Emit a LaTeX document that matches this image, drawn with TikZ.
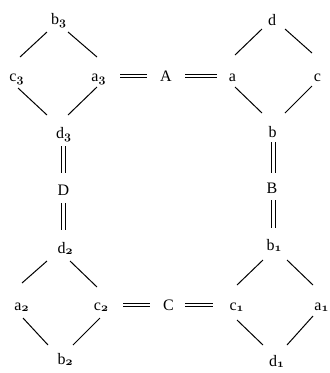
\documentclass[tikz,border=0pt]{standalone}
\usepackage{fontspec}
\setmainfont{Liberation Serif}
\begin{document}
\begin{tikzpicture}[x=1pt,y=-1pt,
  lbl/.style={inner sep=0pt, anchor=base, text height=12pt, text depth=2pt,
    font=\fontsize{16}{18}\selectfont},
  edge/.style={line width=1pt},
  eq/.style={double, double distance=2.3pt, line width=0.9pt}]
\newcommand{\sbx}[1]{\raisebox{-1.6pt}{\fontsize{12}{12}\usefont{OML}{cmm}{b}{it}#1}}
\useasboundingbox (0,0) rectangle (330,373);
% top-left diamond
\node[lbl] (b3) at (58.5,24) {b\sbx{3}};
\node[lbl] (c3) at (16.5,81) {c\sbx{3}};
\node[lbl] (a3) at (98.5,81) {a\sbx{3}};
\node[lbl] (d3) at (63.5,138) {d\sbx{3}};
% top-right diamond
\node[lbl] (d) at (272,25) {d};
\node[lbl] (a) at (232.5,81) {a};
\node[lbl] (c) at (317.5,81) {c};
\node[lbl] (b) at (272.5,137) {b};
% bottom-left diamond
\node[lbl] (d2) at (65,253) {d\sbx{2}};
\node[lbl] (a2) at (21.5,310) {a\sbx{2}};
\node[lbl] (c2) at (101,310) {c\sbx{2}};
\node[lbl] (b2) at (65,364) {b\sbx{2}};
% bottom-right diamond
\node[lbl] (b1) at (274,250) {b\sbx{1}};
\node[lbl] (c1) at (236.5,310) {c\sbx{1}};
\node[lbl] (a1) at (321.5,310) {a\sbx{1}};
\node[lbl] (d1) at (276.5,366) {d\sbx{1}};
% middle labels
\node[lbl] (A) at (166,81) {A};
\node[lbl] (C) at (168.5,310) {C};
\node[lbl] (D) at (63.5,195) {D};
\node[lbl] (B) at (272,193) {B};
% diamond edges TL
\draw[edge] ([shift={(-11.5pt,-8pt)}]b3.base) -- ([shift={(3.5pt,24pt)}]c3.base);
\draw[edge] ([shift={(9.5pt,-8pt)}]b3.base) -- ([shift={(-1.5pt,24pt)}]a3.base);
\draw[edge] ([shift={(1.5pt,-7pt)}]c3.base) -- ([shift={(-16.5pt,23pt)}]d3.base);
\draw[edge] ([shift={(-1.5pt,-6pt)}]a3.base) -- ([shift={(4.5pt,23pt)}]d3.base);
% TR
\draw[edge] ([shift={(-10pt,-4pt)}]d.base) -- ([shift={(2.5pt,26pt)}]a.base);
\draw[edge] ([shift={(13pt,-4pt)}]d.base) -- ([shift={(-5.5pt,28pt)}]c.base);
\draw[edge] ([shift={(2.5pt,-6pt)}]a.base) -- ([shift={(-10.5pt,24pt)}]b.base);
\draw[edge] ([shift={(-5.5pt,-5pt)}]c.base) -- ([shift={(12.5pt,24pt)}]b.base);
% BL
\draw[edge] ([shift={(-18pt,-8pt)}]d2.base) -- ([shift={(0.5pt,27pt)}]a2.base);
\draw[edge] ([shift={(5pt,-8pt)}]d2.base) -- ([shift={(-4pt,23pt)}]c2.base);
\draw[edge] ([shift={(1.5pt,-8pt)}]a2.base) -- ([shift={(-17pt,19pt)}]b2.base);
\draw[edge] ([shift={(-1pt,-8pt)}]c2.base) -- ([shift={(8pt,19pt)}]b2.base);
% BR
\draw[edge] ([shift={(-11pt,-10pt)}]b1.base) -- ([shift={(0.5pt,25pt)}]c1.base);
\draw[edge] ([shift={(13pt,-10pt)}]b1.base) -- ([shift={(-8.5pt,25pt)}]a1.base);
\draw[edge] ([shift={(0.5pt,-10pt)}]c1.base) -- ([shift={(-13.5pt,21pt)}]d1.base);
\draw[edge] ([shift={(-8.5pt,-6pt)}]a1.base) -- ([shift={(10.5pt,21pt)}]d1.base);
% equalities horizontal
\draw[eq] ([shift={(21.5pt,5pt)}]a3.base) -- ([shift={(-19pt,5pt)}]A.base);
\draw[eq] ([shift={(19pt,5pt)}]A.base) -- ([shift={(-15.5pt,5pt)}]a.base);
\draw[eq] ([shift={(22pt,5pt)}]c2.base) -- ([shift={(-18.5pt,5pt)}]C.base);
\draw[eq] ([shift={(16.5pt,5pt)}]C.base) -- ([shift={(-23.5pt,5pt)}]c1.base);
% equalities vertical
\draw[eq] ([shift={(0pt,-8pt)}]d3.base) -- ([shift={(0pt,22pt)}]D.base);
\draw[eq] ([shift={(0pt,-8pt)}]D.base) -- ([shift={(-1.5pt,23pt)}]d2.base);
\draw[eq] ([shift={(1pt,-5pt)}]b.base) -- ([shift={(1.5pt,20pt)}]B.base);
\draw[eq] ([shift={(1.5pt,-7pt)}]B.base) -- ([shift={(-0.5pt,22pt)}]b1.base);
\end{tikzpicture}
\end{document}
